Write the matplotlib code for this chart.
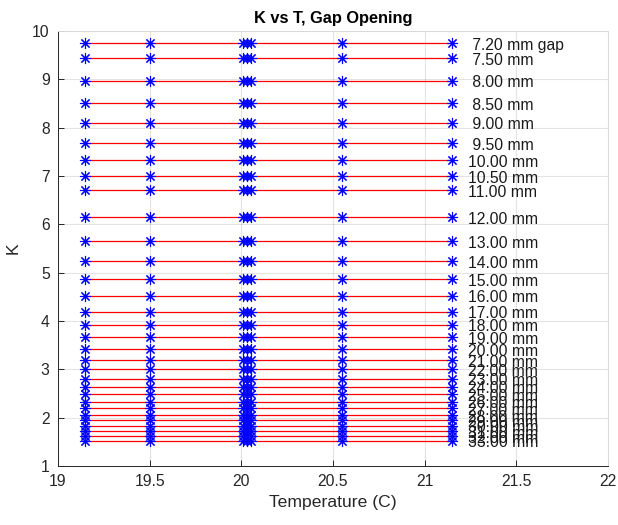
import matplotlib
matplotlib.use("Agg")
import matplotlib.pyplot as plt
import matplotlib.transforms as mtransforms
import numpy as np

plt.rcParams['font.family'] = ['Liberation Sans', 'DejaVu Sans']

# Data
temperatures = [19.15, 19.5, 20.01, 20.03, 20.05, 20.55, 21.15]
gaps_mm = [7.2, 7.5, 8.0, 8.5, 9.0, 9.5, 10.0, 10.5, 11.0, 12.0, 13.0, 14.0,
           15.0, 16.0, 17.0, 18.0, 19.0, 20.0, 21.0, 22.0, 23.0, 24.0, 25.0,
           26.0, 27.0, 28.0, 29.0, 30.0, 31.0, 32.0, 33.0]
k_values = [9.75, 9.44, 8.97, 8.51, 8.10, 7.68, 7.33, 7.00, 6.71, 6.15, 5.65,
            5.24, 4.87, 4.52, 4.19, 3.92, 3.66, 3.42, 3.19, 3.00, 2.81, 2.64,
            2.48, 2.33, 2.19, 2.05, 1.95, 1.83, 1.72, 1.62, 1.52]
x_ticks = [19, 19.5, 20, 20.5, 21, 21.5, 22]
y_ticks = [1, 2, 3, 4, 5, 6, 7, 8, 9, 10]
label_x = 21.237

fig = plt.figure(figsize=(6.18, 5.25), dpi=100)
ax = fig.add_axes([58/618, 59/525, 550/618, 435/525])
text_tr = mtransforms.offset_copy(ax.transData, fig=fig, x=0, y=-1.5, units='points')

tmin, tmax = min(temperatures), max(temperatures)
for i, (g, k) in enumerate(zip(gaps_mm, k_values)):
    ax.plot([tmin, tmax], [k, k], color='red', lw=0.9, zorder=2)
    ax.plot(temperatures, [k]*len(temperatures), linestyle='none',
            marker=(8, 2, 0), color='blue', markersize=8,
            markeredgewidth=0.8, zorder=3)
    label = f"{g:5.2f} mm gap" if i == 0 else f"{g:5.2f} mm"
    ax.text(label_x, k, label, fontsize=11.3, va='center', ha='left',
            color='#1a1a1a', zorder=4, transform=text_tr)

ax.set_xlim(19, 22)
ax.set_ylim(1, 10)
ax.set_xticks(x_ticks)
ax.set_xticklabels([f"{t:g}" for t in x_ticks])
ax.set_yticks(y_ticks)
ax.grid(True, color='#262626', alpha=0.12, lw=0.8)
ax.set_axisbelow(True)
for s in ax.spines.values():
    s.set_color('#262626')
    s.set_linewidth(0.7)
ax.spines['top'].set_color('#d9d9d9')
ax.spines['right'].set_color('#d9d9d9')
ax.tick_params(direction='in', length=4, width=0.7, colors='#262626',
               labelsize=11.3, pad=6, top=False, right=False)
ax.set_xlabel('Temperature (C)', fontsize=12.6, color='#262626', labelpad=4)
ax.set_ylabel('K', fontsize=12.6, color='#262626', labelpad=8)
ax.set_title('K vs T, Gap Opening', fontsize=11.8, fontweight='bold', pad=6)

fig.savefig('out.png', dpi=100)
